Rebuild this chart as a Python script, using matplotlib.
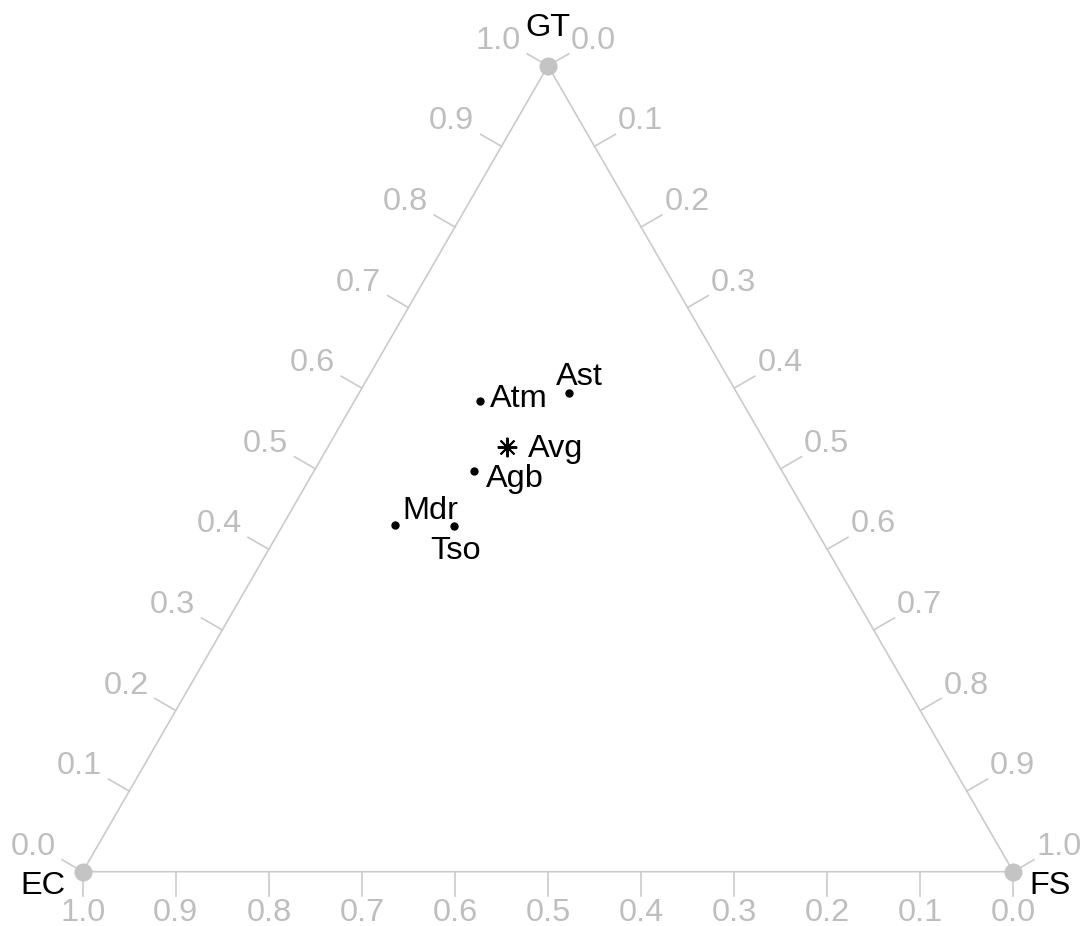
import numpy as np
import matplotlib
matplotlib.use("Agg")
import matplotlib.pyplot as plt

plt.rcParams['font.family'] = ['Liberation Sans', 'DejaVu Sans']

# compositions (EC, FS, GT) per site, plus the average
sites = ["Ast", "Atm", "Avg", "Agb", "Mdr", "Tso"]
ec = [0.180, 0.281, 0.281, 0.331, 0.449, 0.386]
fs = [0.226, 0.135, 0.192, 0.172, 0.121, 0.185]
gt = [0.594, 0.584, 0.527, 0.497, 0.430, 0.429]
tick_vals = [0.0, 0.1, 0.2, 0.3, 0.4, 0.5, 0.6, 0.7, 0.8, 0.9, 1.0]

# label nudges in pixels (dx, dy of the baseline-left corner)
label_nudge = {"Ast": (-13, 8), "Atm": (10, -6), "Avg": (21, -10),
               "Agb": (12, -16), "Mdr": (7, 6), "Tso": (-24, -33)}

LINE = "#C9C9C9"
TXT = "#BEBEBE"
FS_PT = 23.4
H = np.sqrt(3) / 2


def to_xy(e, f, g):
    e, f, g = np.asarray(e), np.asarray(f), np.asarray(g)
    tot = e + f + g
    f, g = f / tot, g / tot
    return f + g / 2, g * H


W, HT, DPI = 1085, 926, 100
fig = plt.figure(figsize=(W / DPI, HT / DPI), dpi=DPI)
ax = fig.add_axes([0, 0, 1, 1])
scale = 930.6  # pixels per unit side
x0, y0 = 82.7, HT - 871.7
ax.set_xlim(-x0 / scale, (W - x0) / scale)
ax.set_ylim(-y0 / scale, (HT - y0) / scale)
ax.axis("off")

# triangle
tri_x = [0, 1, 0.5, 0]
tri_y = [0, 0, H, 0]
ax.plot(tri_x, tri_y, color=LINE, lw=1.15, zorder=1, solid_capstyle="butt")

tick_len = 24 / scale
for v in tick_vals:
    lab = f"{v:.1f}"
    # EC along the bottom
    bx, by = 1 - v, 0
    ax.plot([bx, bx], [by, by - tick_len], color=LINE, lw=1.15, zorder=1)
    ax.annotate(lab, (bx, by - tick_len), xytext=(0, -17), textcoords="offset pixels",
                ha="center", va="center", color=TXT, fontsize=FS_PT)
    # GT along the left side
    lx, ly = v / 2, v * H
    ex, ey = lx - H * tick_len, ly + 0.5 * tick_len
    ax.plot([lx, ex], [ly, ey], color=LINE, lw=1.15, zorder=1)
    ax.annotate(lab, (ex, ey), xytext=(-29, 13), textcoords="offset pixels",
                ha="center", va="center", color=TXT, fontsize=FS_PT)
    # FS along the right side
    rx, ry = 0.5 + v / 2, (1 - v) * H
    ex, ey = rx + H * tick_len, ry + 0.5 * tick_len
    ax.plot([rx, ex], [ry, ey], color=LINE, lw=1.15, zorder=1)
    ax.annotate(lab, (ex, ey), xytext=(25, 13), textcoords="offset pixels",
                ha="center", va="center", color=TXT, fontsize=FS_PT)

# vertices
ax.plot([0, 1, 0.5], [0, 0, H], "o", color="#C4C4C4", ms=13, mec="none", zorder=3)
ax.annotate("EC", (0, 0), xytext=(-40, -14), textcoords="offset pixels",
            ha="center", va="center", fontsize=FS_PT)
ax.annotate("FS", (1, 0), xytext=(37, -14), textcoords="offset pixels",
            ha="center", va="center", fontsize=FS_PT)
ax.annotate("GT", (0.5, H), xytext=(0, 38), textcoords="offset pixels",
            ha="center", va="center", fontsize=FS_PT)

# points
px, py = to_xy(ec, fs, gt)
for name, x, y in zip(sites, px, py):
    if name == "Avg":
        ax.plot(x, y, marker=(8, 2, 0), color="black", ms=14, mew=1.4, zorder=4)
    else:
        ax.plot(x, y, "o", color="black", ms=6, mec="none", zorder=4)
    dx, dy = label_nudge[name]
    ax.annotate(name, (x, y), xytext=(dx, dy), textcoords="offset pixels",
                ha="left", va="baseline", fontsize=FS_PT)

fig.savefig("out.png", dpi=DPI)
